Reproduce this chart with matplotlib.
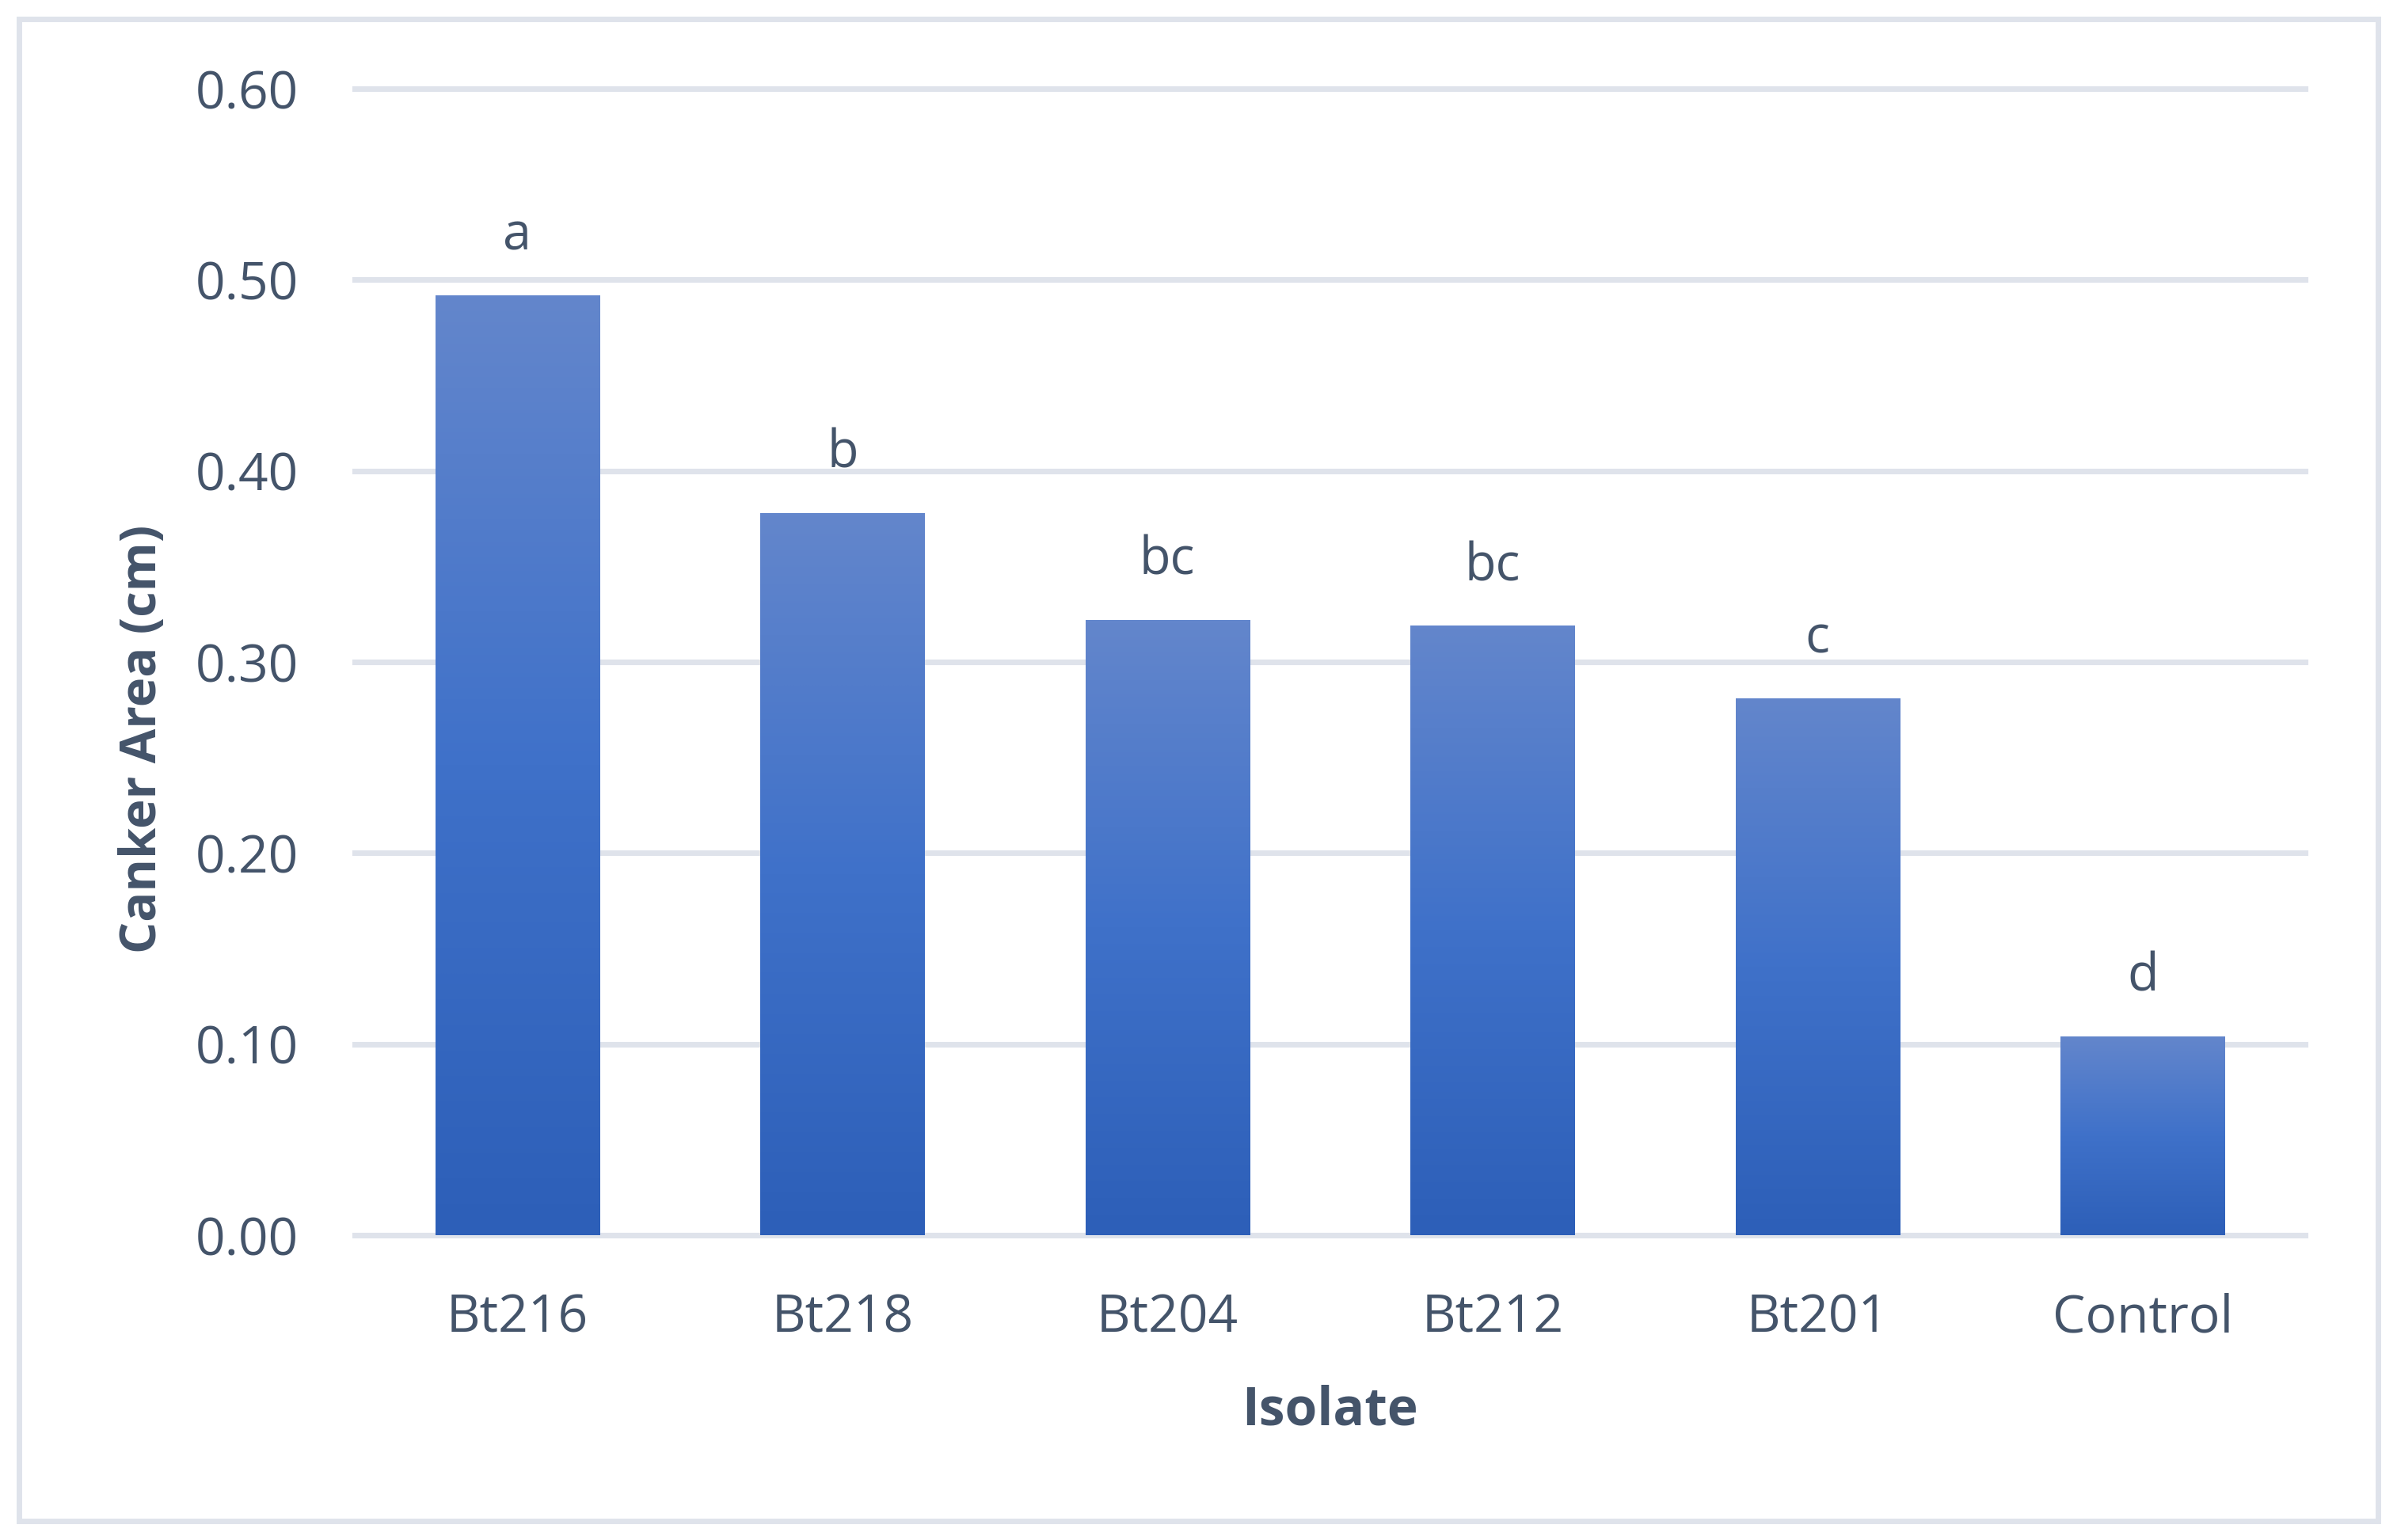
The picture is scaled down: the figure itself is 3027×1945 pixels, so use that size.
import matplotlib
matplotlib.use("Agg")
import matplotlib.pyplot as plt
import numpy as np
from matplotlib.colors import LinearSegmentedColormap
from matplotlib.patches import Rectangle

categories = ["Bt216", "Bt218", "Bt204", "Bt212", "Bt201", "Control"]
values = [0.492, 0.378, 0.322, 0.319, 0.281, 0.104]
letters = ["a", "b", "bc", "bc", "c", "d"]
yticks = [0.0, 0.1, 0.2, 0.3, 0.4, 0.5, 0.6]

W, H, DPI = 3027, 1945, 300
plt.rcParams['font.family'] = ['Open Sans', 'DejaVu Sans']
txt = '#44546A'
grid_c = '#DFE3EB'

fig = plt.figure(figsize=(W / DPI, H / DPI), dpi=DPI)
ax = fig.add_axes([448 / W, (H - 1560) / H, (2911 - 448) / W, (1560 - 112) / H])

cmap = LinearSegmentedColormap.from_list(
    'g', [(0.0, '#2D5FB8'), (0.5, '#3F71C9'), (1.0, '#6386CC')])
grad = np.linspace(0, 1, 256).reshape(-1, 1)

x = np.arange(len(categories))
bars = ax.bar(x, values, width=0.505, color='none', edgecolor='none', zorder=3)
for b in bars:
    x0, y0, w, h = b.get_x(), b.get_y(), b.get_width(), b.get_height()
    im = ax.imshow(grad, cmap=cmap, origin='lower', aspect='auto',
                   extent=[x0, x0 + w, y0, y0 + h], zorder=3,
                   interpolation='bilinear')
    im.set_clip_path(b)

for xi, v, l in zip(x, values, letters):
    ax.annotate(l, (xi, v), xytext=(0, 13.7), textcoords='offset points',
                ha='center', va='baseline', fontsize=15.5, color=txt)

ax.set_xlim(-0.5, len(categories) - 0.5)
ax.set_ylim(0, 0.6)
ax.set_yticks(yticks)
ax.set_yticklabels([f"{t:.2f}" for t in yticks])
ax.set_xticks(x)
ax.set_xticklabels(categories)
for s in ax.spines.values():
    s.set_visible(False)
ax.tick_params(length=0, labelsize=15.8, colors=txt)
ax.tick_params(axis='y', pad=17)
ax.tick_params(axis='x', pad=17.5)
for t in yticks:
    ax.axhline(t, color=grid_c, lw=1.7, zorder=1, clip_on=False)

fig.text(181 / W, 1 - 933 / H, "Canker Area (cm)", rotation=90, ha='center',
         va='center', fontsize=15.2, fontweight='bold', color=txt)
ax.set_xlabel("Isolate", fontsize=15.8, fontweight='bold', color=txt, labelpad=12)

fig.patches.append(Rectangle((24 / W, 24 / H), 1 - 48 / W, 1 - 48 / H,
                             transform=fig.transFigure, fill=False,
                             edgecolor=grid_c, lw=7 * 72 / DPI, zorder=0))

fig.savefig("out.png", dpi=DPI, facecolor='white')
